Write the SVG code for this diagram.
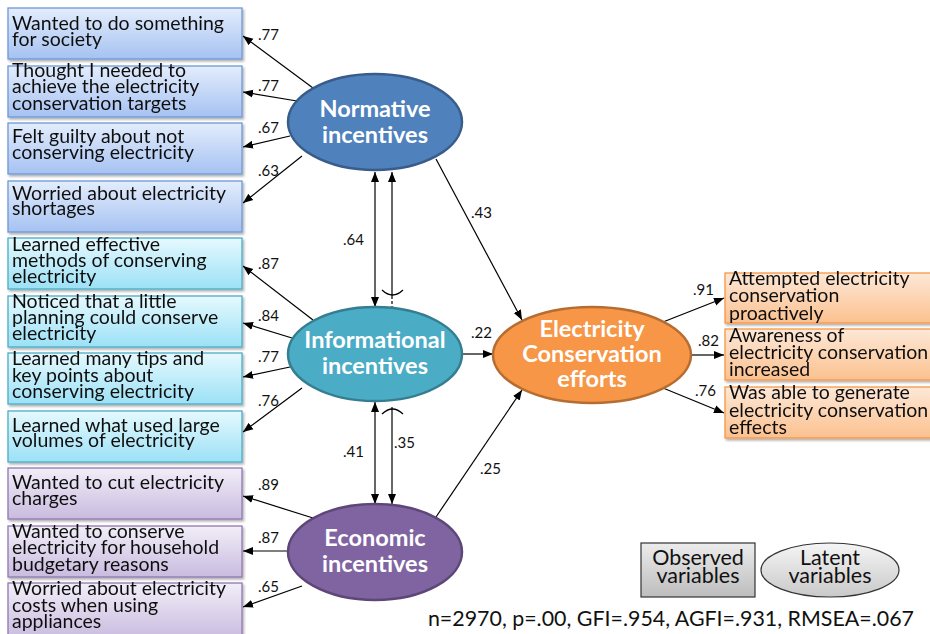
<svg xmlns="http://www.w3.org/2000/svg" width="930" height="634" viewBox="0 0 930 634">
<style>
.bt{font-family:Lato,"Open Sans","Liberation Sans",sans-serif;font-size:19.5px;fill:#111}
.lt{font-family:Lato,"Open Sans","Liberation Sans",sans-serif;font-size:23.5px;font-weight:bold;fill:#fff;text-anchor:middle}
.nl{font-family:Lato,"Open Sans","Liberation Sans",sans-serif;font-size:15px;fill:#111}
.lg{font-family:Lato,"Open Sans","Liberation Sans",sans-serif;font-size:21.5px;fill:#111;text-anchor:middle}
.st{font-family:Lato,"Open Sans","Liberation Sans",sans-serif;font-size:21.4px;fill:#111}
.ar{stroke:#000;stroke-width:1.2;fill:none}
.blue{fill:url(#gB);stroke:#6d98d6;stroke-width:1.3}
.cyan{fill:url(#gC);stroke:#4bacc6;stroke-width:1.3}
.purp{fill:url(#gP);stroke:#8f77b3;stroke-width:1.3}
.orng{fill:url(#gO);stroke:#f79646;stroke-width:1.3}
</style>
<defs>
<linearGradient id="gB" x1="0" y1="0" x2="0" y2="1"><stop offset="0" stop-color="#e3edfc"/><stop offset="1" stop-color="#a6c2f2"/></linearGradient>
<linearGradient id="gC" x1="0" y1="0" x2="0" y2="1"><stop offset="0" stop-color="#e6f9fe"/><stop offset="1" stop-color="#9be1f6"/></linearGradient>
<linearGradient id="gP" x1="0" y1="0" x2="0" y2="1"><stop offset="0" stop-color="#f2eef8"/><stop offset="1" stop-color="#c9bbdf"/></linearGradient>
<linearGradient id="gO" x1="0" y1="0" x2="0" y2="1"><stop offset="0" stop-color="#fde8d7"/><stop offset="1" stop-color="#fbc18f"/></linearGradient>
<linearGradient id="gG" x1="0" y1="0" x2="0" y2="1"><stop offset="0" stop-color="#ececec"/><stop offset="1" stop-color="#bdbdbd"/></linearGradient>
<linearGradient id="gE" x1="0" y1="0" x2="0" y2="1"><stop offset="0" stop-color="#f5f5f5"/><stop offset="1" stop-color="#c9c9c9"/></linearGradient>
<filter id="sh" x="-5%" y="-10%" width="115%" height="130%"><feDropShadow dx="1.5" dy="2" stdDeviation="1.2" flood-color="#000" flood-opacity="0.3"/></filter>
<marker id="ah" viewBox="0 0 10 10" refX="10" refY="5" markerWidth="10" markerHeight="10" markerUnits="userSpaceOnUse" orient="auto-start-reverse"><path d="M0,1 L10,5 L0,9 Z" fill="#000"/></marker>
</defs>

<g id="connectors">
<line class="ar" x1="313" y1="88" x2="243" y2="36" marker-end="url(#ah)"/>
<line class="ar" x1="297" y1="101" x2="243" y2="92" marker-end="url(#ah)"/>
<line class="ar" x1="290" y1="136" x2="243" y2="147" marker-end="url(#ah)"/>
<line class="ar" x1="302" y1="156" x2="243" y2="203" marker-end="url(#ah)"/>
<line class="ar" x1="313" y1="320" x2="243" y2="266" marker-end="url(#ah)"/>
<line class="ar" x1="292" y1="338" x2="243" y2="323" marker-end="url(#ah)"/>
<line class="ar" x1="290" y1="367" x2="243" y2="377" marker-end="url(#ah)"/>
<line class="ar" x1="302" y1="388" x2="243" y2="432" marker-end="url(#ah)"/>
<line class="ar" x1="313" y1="518" x2="243" y2="496" marker-end="url(#ah)"/>
<line class="ar" x1="289" y1="551" x2="243" y2="551" marker-end="url(#ah)"/>
<line class="ar" x1="302" y1="586" x2="243" y2="607" marker-end="url(#ah)"/>
<line class="ar" x1="436" y1="159" x2="522" y2="320" marker-end="url(#ah)"/>
<line class="ar" x1="462" y1="354" x2="493" y2="354" marker-end="url(#ah)"/>
<line class="ar" x1="436" y1="517" x2="522" y2="390" marker-end="url(#ah)"/>
<line class="ar" x1="663" y1="322" x2="724" y2="298" marker-end="url(#ah)"/>
<line class="ar" x1="692" y1="355" x2="724" y2="355" marker-end="url(#ah)"/>
<line class="ar" x1="663" y1="388" x2="724" y2="413" marker-end="url(#ah)"/>
<line class="ar" x1="375" y1="172" x2="375" y2="307" marker-start="url(#ah)" marker-end="url(#ah)"/>
<line class="ar" x1="375" y1="402" x2="375" y2="504" marker-start="url(#ah)" marker-end="url(#ah)"/>
<line class="ar" x1="392" y1="172" x2="392" y2="296" marker-start="url(#ah)"/>
<line class="ar" x1="392" y1="296" x2="392" y2="308" stroke-dasharray="3,2"/>
<path class="ar" d="M382,290 Q392.5,300 403,290"/>
<path class="ar" d="M382,414 Q392.5,404 403,414"/>
<line class="ar" x1="392" y1="407" x2="392" y2="504" marker-end="url(#ah)"/>
</g>

<g id="labels">
<text class="nl" x="258" y="40">.77</text>
<text class="nl" x="258" y="91">.77</text>
<text class="nl" x="258" y="133">.67</text>
<text class="nl" x="258" y="176">.63</text>
<text class="nl" x="258" y="269">.87</text>
<text class="nl" x="258" y="321">.84</text>
<text class="nl" x="258" y="362">.77</text>
<text class="nl" x="258" y="406">.76</text>
<text class="nl" x="258" y="490">.89</text>
<text class="nl" x="258" y="543">.87</text>
<text class="nl" x="258" y="592">.65</text>
<text class="nl" x="343" y="245">.64</text>
<text class="nl" x="343" y="457">.41</text>
<text class="nl" x="394" y="448">.35</text>
<text class="nl" x="471" y="218">.43</text>
<text class="nl" x="471" y="338">.22</text>
<text class="nl" x="480" y="474">.25</text>
<text class="nl" x="693" y="295">.91</text>
<text class="nl" x="698" y="346">.82</text>
<text class="nl" x="695" y="396">.76</text>
</g>

<g id="obs1" filter="url(#sh)"><rect class="blue" x="8" y="8" width="234" height="51"/><text class="bt"><tspan x="12" y="30">Wanted to do something</tspan><tspan x="12" y="46">for society</tspan></text></g>
<g id="obs2" filter="url(#sh)"><rect class="blue" x="8" y="66" width="234" height="51"/><text class="bt"><tspan x="12" y="77">Thought I needed to</tspan><tspan x="12" y="93">achieve the electricity</tspan><tspan x="12" y="110">conservation targets</tspan></text></g>
<g id="obs3" filter="url(#sh)"><rect class="blue" x="8" y="123" width="234" height="51"/><text class="bt"><tspan x="12" y="143">Felt guilty about not</tspan><tspan x="12" y="159">conserving electricity</tspan></text></g>
<g id="obs4" filter="url(#sh)"><rect class="blue" x="8" y="181" width="234" height="51"/><text class="bt"><tspan x="12" y="200">Worried about electricity</tspan><tspan x="12" y="215">shortages</tspan></text></g>

<g id="obs5" filter="url(#sh)"><rect class="cyan" x="8" y="238" width="234" height="51"/><text class="bt"><tspan x="12" y="251">Learned effective</tspan><tspan x="12" y="267">methods of conserving</tspan><tspan x="12" y="283">electricity</tspan></text></g>
<g id="obs6" filter="url(#sh)"><rect class="cyan" x="8" y="296" width="234" height="51"/><text class="bt"><tspan x="12" y="308">Noticed that a little</tspan><tspan x="12" y="324">planning could conserve</tspan><tspan x="12" y="340">electricity</tspan></text></g>
<g id="obs7" filter="url(#sh)"><rect class="cyan" x="8" y="353" width="234" height="51"/><text class="bt"><tspan x="12" y="365">Learned many tips and</tspan><tspan x="12" y="382">key points about</tspan><tspan x="12" y="398">conserving electricity</tspan></text></g>
<g id="obs8" filter="url(#sh)"><rect class="cyan" x="8" y="411" width="234" height="51"/><text class="bt"><tspan x="12" y="432">Learned what used large</tspan><tspan x="12" y="447">volumes of electricity</tspan></text></g>

<g id="obs9" filter="url(#sh)"><rect class="purp" x="8" y="468" width="234" height="51"/><text class="bt"><tspan x="12" y="489">Wanted to cut electricity</tspan><tspan x="12" y="505">charges</tspan></text></g>
<g id="obs10" filter="url(#sh)"><rect class="purp" x="8" y="526" width="234" height="51"/><text class="bt"><tspan x="12" y="538">Wanted to conserve</tspan><tspan x="12" y="554">electricity for household</tspan><tspan x="12" y="571">budgetary reasons</tspan></text></g>
<g id="obs11" filter="url(#sh)"><rect class="purp" x="8" y="583" width="234" height="56"/><text class="bt"><tspan x="12" y="595">Worried about electricity</tspan><tspan x="12" y="612">costs when using</tspan><tspan x="12" y="628">appliances</tspan></text></g>

<g id="out1" filter="url(#sh)"><rect class="orng" x="725" y="273" width="210" height="50"/><text class="bt"><tspan x="729" y="285">Attempted electricity</tspan><tspan x="729" y="302">conservation</tspan><tspan x="729" y="320">proactively</tspan></text></g>
<g id="out2" filter="url(#sh)"><rect class="orng" x="725" y="329" width="210" height="51"/><text class="bt"><tspan x="729" y="342">Awareness of</tspan><tspan x="729" y="359">electricity conservation</tspan><tspan x="729" y="376">increased</tspan></text></g>
<g id="out3" filter="url(#sh)"><rect class="orng" x="725" y="387" width="210" height="51"/><text class="bt"><tspan x="729" y="399">Was able to generate</tspan><tspan x="729" y="417">electricity conservation</tspan><tspan x="729" y="434">effects</tspan></text></g>

<g id="normative"><ellipse cx="375" cy="122" rx="87" ry="48" fill="#4f81bd" stroke="#385d8a" stroke-width="2.5"/><text class="lt"><tspan x="375" y="117">Normative</tspan><tspan x="375" y="143">incentives</tspan></text></g>
<g id="informational"><ellipse cx="375" cy="354" rx="87" ry="47" fill="#4bacc6" stroke="#357d91" stroke-width="2.5"/><text class="lt"><tspan x="375" y="348">Informational</tspan><tspan x="375" y="374">incentives</tspan></text></g>
<g id="economic"><ellipse cx="375" cy="552" rx="87" ry="48" fill="#8064a2" stroke="#5c4776" stroke-width="2.5"/><text class="lt"><tspan x="375" y="546">Economic</tspan><tspan x="375" y="572">incentives</tspan></text></g>
<g id="efforts"><ellipse cx="592" cy="355" rx="99" ry="48" fill="#f79646" stroke="#b66d31" stroke-width="2.5"/><text class="lt"><tspan x="592" y="337">Electricity</tspan><tspan x="592" y="362">Conservation</tspan><tspan x="592" y="387">efforts</tspan></text></g>

<g id="legend-observed"><rect x="641" y="543" width="114" height="54" fill="url(#gG)" stroke="#333" stroke-width="1.2"/><text class="lg"><tspan x="698" y="565">Observed</tspan><tspan x="698" y="583">variables</tspan></text></g>
<g id="legend-latent"><ellipse cx="830" cy="570" rx="69" ry="27" fill="url(#gE)" stroke="#333" stroke-width="1.2"/><text class="lg"><tspan x="830" y="565">Latent</tspan><tspan x="830" y="583">variables</tspan></text></g>
<text class="st" x="914" y="626" text-anchor="end">n=2970, p=.00, GFI=.954, AGFI=.931, RMSEA=.067</text>
</svg>
